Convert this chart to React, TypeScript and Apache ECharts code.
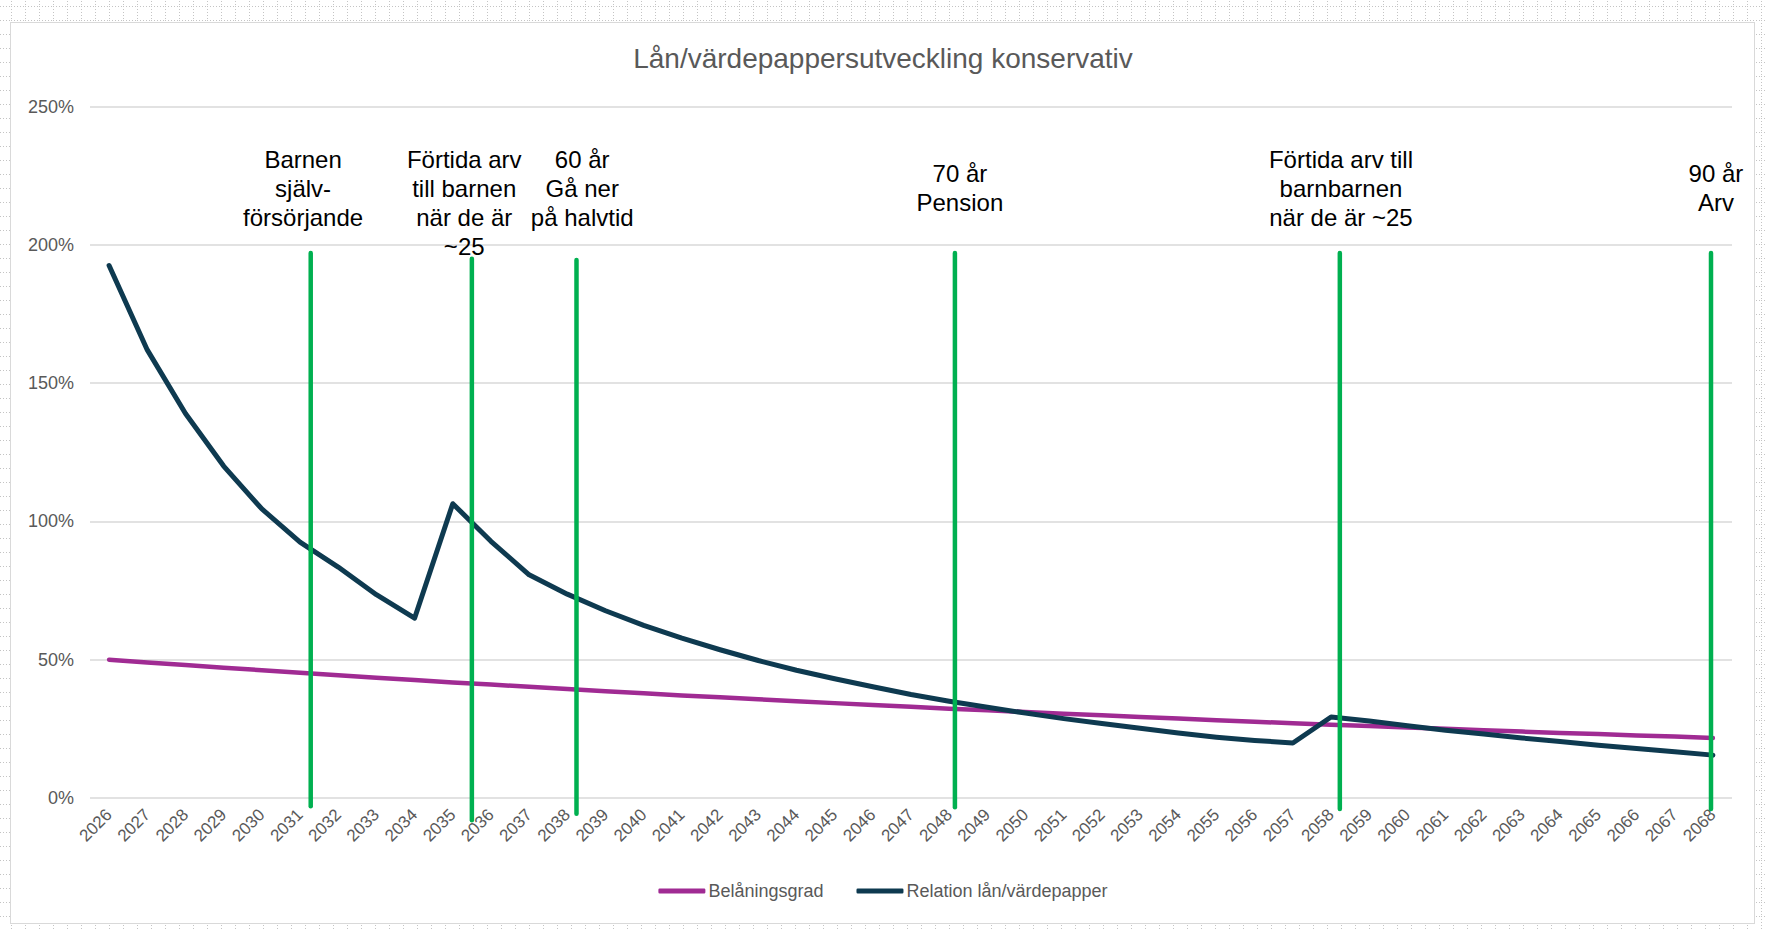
import React, { useEffect, useRef } from "react";
import * as echarts from "echarts";

const years = [
  "2026", "2027", "2028", "2029", "2030", "2031", "2032", "2033", "2034", "2035",
  "2036", "2037", "2038", "2039", "2040", "2041", "2042", "2043", "2044", "2045",
  "2046", "2047", "2048", "2049", "2050", "2051", "2052", "2053", "2054", "2055",
  "2056", "2057", "2058", "2059", "2060", "2061", "2062", "2063", "2064", "2065",
  "2066", "2067", "2068",
];

// Belåningsgrad (%)
const belaningsgrad = [
  50.0, 49.0, 48.1, 47.1, 46.2, 45.3, 44.4, 43.5, 42.7, 41.8,
  41.0, 40.2, 39.4, 38.6, 37.9, 37.1, 36.4, 35.7, 35.0, 34.3,
  33.6, 33.0, 32.3, 31.7, 31.1, 30.5, 29.9, 29.3, 28.7, 28.1,
  27.6, 27.0, 26.5, 26.0, 25.5, 25.0, 24.5, 24.0, 23.5, 23.1,
  22.6, 22.2, 21.7,
];

// Relation lån/värdepapper (%)
const relation = [
  192.5, 162.0, 139.0, 120.0, 104.5, 92.5, 83.5, 73.5, 65.0, 106.4,
  92.8, 80.7, 73.7, 67.7, 62.4, 57.8, 53.6, 49.7, 46.2, 43.1,
  40.2, 37.4, 35.0, 32.8, 30.7, 28.7, 26.9, 25.2, 23.5, 22.0,
  20.8, 19.9, 29.3, 27.8, 26.1, 24.5, 23.1, 21.7, 20.4, 19.1,
  17.9, 16.7, 15.5,
];

const seriesNames = ["Belåningsgrad", "Relation lån/värdepapper"];

// Milestone lines (position in category units, y extent in %)
const milestoneX = [5.28, 9.5, 12.24, 22.15, 32.23, 41.95];
const milestoneTop = [197, 195, 194.5, 197, 197, 197];
const milestoneBottom = [-3, -8, -5.7, -3.3, -4, -4];

// Milestone notes
const noteText = [
  "Barnen\nsjälv-\nförsörjande",
  "Förtida arv\ntill barnen\nnär de är\n~25",
  "60 år\nGå ner\npå halvtid",
  "70 år\nPension",
  "Förtida arv till\nbarnbarnen\nnär de är ~25",
  "90 år\nArv",
];
const noteX = [5.08, 9.3, 12.39, 22.28, 32.26, 42.08];
const noteY = [220.4, 215, 220.4, 220.4, 220.4, 220.4];

const yMin = 0;
const yMax = 250;
const yInterval = 50;

const FONT = "'Liberation Sans', Arial, sans-serif";
const GRAY = "#595959";

const gridSvg =
  "data:image/svg+xml;utf8," +
  encodeURIComponent(
    "<svg xmlns='http://www.w3.org/2000/svg' width='14' height='14'>" +
      "<line x1='0.5' y1='0' x2='0.5' y2='14' stroke='#c4c4c4' stroke-width='1' stroke-dasharray='1,2'/>" +
      "<line x1='0' y1='0.5' x2='14' y2='0.5' stroke='#c4c4c4' stroke-width='1' stroke-dasharray='1,2'/>" +
      "</svg>"
  );

export default function App() {
  const ref = useRef<HTMLDivElement>(null);

  useEffect(() => {
    document.body.style.margin = "0";
    if (!ref.current) return;
    const chart = echarts.init(ref.current, undefined, { renderer: "svg" });

    const milestoneData = milestoneX.map((x, i) => [x, milestoneBottom[i], milestoneTop[i], i]);

    chart.setOption({
      animation: false,
      backgroundColor: "transparent",
      title: {
        text: "Lån/värdepappersutveckling konservativ",
        left: "center",
        top: 44,
        padding: 0,
        textStyle: { fontFamily: FONT, fontSize: 28, fontWeight: "normal", color: GRAY },
      },
      legend: {
        data: seriesNames,
        left: "center",
        top: 877,
        icon: "roundRect",
        itemWidth: 47,
        itemHeight: 5,
        itemGap: 33,
        textStyle: { fontFamily: FONT, fontSize: 18, color: GRAY, padding: [0, 0, 0, -2] },
      },
      grid: { left: 90, right: 34, top: 106.5, bottom: 132, containLabel: false },
      xAxis: [
        {
          type: "category",
          data: years,
          boundaryGap: true,
          axisLine: { show: false },
          axisTick: { show: false },
          axisLabel: {
            interval: 0,
            rotate: 45,
            margin: 14,
            fontFamily: FONT,
            fontSize: 17,
            color: GRAY,
          },
          splitLine: { show: false },
        },
        {
          type: "value",
          min: -0.5,
          max: years.length - 0.5,
          show: false,
        },
      ],
      yAxis: {
        type: "value",
        min: yMin,
        max: yMax,
        interval: yInterval,
        axisLine: { show: false },
        axisTick: { show: false },
        axisLabel: {
          formatter: "{value}%",
          margin: 16,
          fontFamily: FONT,
          fontSize: 18,
          color: GRAY,
        },
        splitLine: { lineStyle: { color: "#D9D9D9", width: 1.5 } },
      },
      series: [
        {
          name: seriesNames[0],
          type: "line",
          data: belaningsgrad,
          symbol: "none",
          lineStyle: { color: "#A02B93", width: 4.5, join: "round", cap: "round" },
          itemStyle: { color: "#A02B93" },
          z: 2,
        },
        {
          name: seriesNames[1],
          type: "line",
          data: relation,
          symbol: "none",
          lineStyle: { color: "#0E3A50", width: 5, join: "round", cap: "round" },
          itemStyle: { color: "#0E3A50" },
          z: 3,
        },
        {
          name: "milestones",
          type: "custom",
          xAxisIndex: 1,
          clip: false,
          z: 4,
          data: milestoneData,
          encode: { x: 0, y: [1, 2] },
          renderItem: (params: any, api: any) => {
            const i = api.value(3);
            const pBottom = api.coord([api.value(0), api.value(1)]);
            const pTop = api.coord([api.value(0), api.value(2)]);
            const pNote = api.coord([noteX[i], noteY[i]]);
            return {
              type: "group",
              children: [
                {
                  type: "line",
                  shape: { x1: pBottom[0], y1: pBottom[1], x2: pTop[0], y2: pTop[1] },
                  style: { stroke: "#00B050", lineWidth: 4.5, lineCap: "round" },
                },
                {
                  type: "text",
                  x: pNote[0],
                  y: pNote[1],
                  style: {
                    text: noteText[i],
                    fill: "#000000",
                    fontSize: 24,
                    fontFamily: FONT,
                    align: "center",
                    verticalAlign: "middle",
                    lineHeight: 29,
                  },
                },
              ],
            };
          },
        },
      ],
    });

    return () => chart.dispose();
  }, []);

  return (
    <div
      style={{
        position: "relative",
        width: 1766,
        height: 930,
        backgroundColor: "#ffffff",
        backgroundImage: `url("${gridSvg}")`,
        backgroundPosition: "11px 6px",
        overflow: "hidden",
      }}
    >
      <div
        style={{
          position: "absolute",
          left: 10,
          top: 22,
          width: 1745,
          height: 902,
          background: "#ffffff",
          border: "1.5px solid #D9D9D9",
          boxSizing: "border-box",
        }}
      />
      <div ref={ref} style={{ position: "absolute", left: 0, top: 0, width: 1766, height: 930 }} />
    </div>
  );
}
